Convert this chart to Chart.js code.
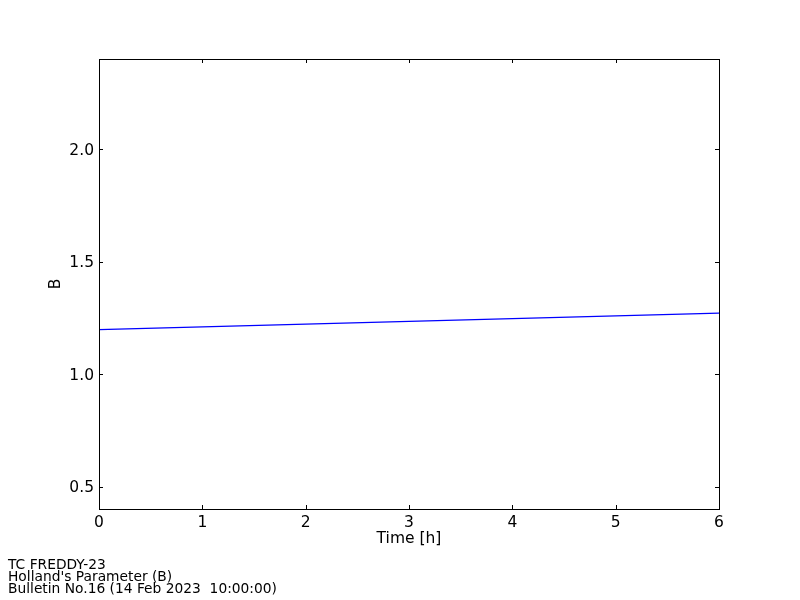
<!DOCTYPE html>
<html>
<head>
<meta charset="utf-8">
<script src="https://cdn.jsdelivr.net/npm/chart.js@4/dist/chart.umd.min.js"></script>
<style>
  html, body { margin: 0; padding: 0; background: #fff; }
  #wrap { position: relative; width: 800px; height: 600px; }
  #footer { position: absolute; left: 8px; top: 558px; font-family: "DejaVu Sans", sans-serif; font-size: 13.8px; line-height: 12px; color: #000; white-space: pre; }
</style>
</head>
<body>
<div id="wrap">
  <canvas id="c" width="800" height="600"></canvas>
  <div id="footer">TC FREDDY-23
Holland's Parameter (B)
Bulletin No.16 (14 Feb 2023  10:00:00)</div>
</div>
<script>
const timeHours = [0, 6];
const bValues = [1.197, 1.271];
const xTickValues = [0, 1, 2, 3, 4, 5, 6];
const yTickValues = [0.5, 1.0, 1.5, 2.0];
const xLabel = 'Time [h]';
const yLabel = 'B';

const FONT = '"DejaVu Sans", sans-serif';

const innerTicks = {
  id: 'innerTicks',
  afterDraw(chart) {
    const ctx = chart.ctx;
    const a = chart.chartArea;
    const xs = chart.scales.x, ys = chart.scales.y;
    ctx.save();
    ctx.strokeStyle = '#000';
    ctx.lineWidth = 1;
    ctx.beginPath();
    xTickValues.forEach(v => {
      const px = Math.round(xs.getPixelForValue(v)) + 0.5;
      ctx.moveTo(px, a.bottom); ctx.lineTo(px, a.bottom - 4);
      ctx.moveTo(px, a.top); ctx.lineTo(px, a.top + 4);
    });
    yTickValues.forEach(v => {
      const py = Math.round(ys.getPixelForValue(v)) + 0.5;
      ctx.moveTo(a.left, py); ctx.lineTo(a.left + 4, py);
      ctx.moveTo(a.right, py); ctx.lineTo(a.right - 4, py);
    });
    ctx.stroke();
    ctx.strokeRect(Math.round(a.left) + 0.5, Math.round(a.top) + 0.5, Math.round(a.right - a.left), Math.round(a.bottom - a.top));
    ctx.restore();
  }
};

new Chart(document.getElementById('c'), {
  type: 'line',
  data: {
    datasets: [{
      data: timeHours.map((t, i) => ({ x: t, y: bValues[i] })),
      borderColor: '#0000ff',
      borderWidth: 1.2,
      pointRadius: 0,
      fill: false,
      tension: 0
    }]
  },
  options: {
    responsive: false,
    animation: false,
    devicePixelRatio: 1,
    layout: { padding: { left: 41, top: 59, right: 81, bottom: 51 } },
    plugins: { legend: { display: false }, tooltip: { enabled: false } },
    scales: {
      x: {
        type: 'linear',
        min: 0, max: 6,
        afterBuildTicks: s => { s.ticks = xTickValues.map(v => ({ value: v })); },
        afterFit: s => { s.height = 40; },
        grid: { display: false, drawTicks: false },
        border: { display: false },
        ticks: { color: '#000', font: { family: FONT, size: 15.5 }, padding: 5, maxRotation: 0, autoSkip: false, callback: v => String(v) },
        title: { display: true, text: xLabel, color: '#000', font: { family: FONT, size: 15.5 }, padding: { top: 0, bottom: 1 } }
      },
      y: {
        type: 'linear',
        min: 0.4, max: 2.4,
        afterBuildTicks: s => { s.ticks = yTickValues.map(v => ({ value: v })); },
        afterFit: s => { s.width = 58; },
        grid: { display: false, drawTicks: false },
        border: { display: false },
        ticks: { color: '#000', font: { family: FONT, size: 15.5 }, padding: 5, labelOffset: 1.5, autoSkip: false, callback: v => v.toFixed(1) },
        title: { display: true, text: yLabel, color: '#000', font: { family: FONT, size: 15.5 }, padding: { top: 6, bottom: 0 } }
      }
    }
  },
  plugins: [innerTicks]
});
</script>
</body>
</html>
